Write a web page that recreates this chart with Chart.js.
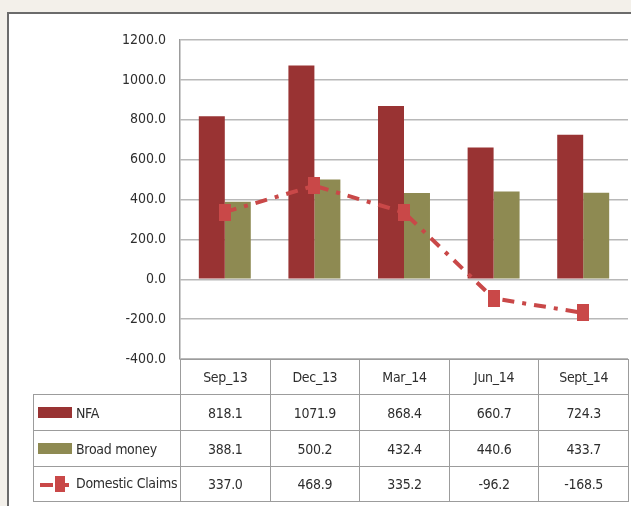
<!DOCTYPE html>
<html>
<head>
<meta charset="utf-8">
<script src="https://cdn.jsdelivr.net/npm/chart.js@4.4.1/dist/chart.umd.min.js"></script>
<style>
  html, body { margin:0; padding:0; width:631px; height:506px; overflow:hidden; background:#f3f0ea; }
  #frame { position:absolute; left:7px; top:12px; width:660px; height:520px; background:#fff; border:2px solid #6b6b6b; box-sizing:border-box; }
  #wrap { position:absolute; left:0; top:0; width:631px; height:506px; }
  #tbl { position:absolute; left:33px; top:359px; border-collapse:collapse; table-layout:fixed;
         font-family:'DejaVu Sans Condensed',sans-serif; font-size:14px; color:#2e2e2e; letter-spacing:-0.3px; }
  #tbl td { border:1px solid #9c9c9c; text-align:center; padding:0; white-space:nowrap; overflow:hidden; }
  #tbl tr.hdr td { height:34px; }
  #tbl tr.row td { height:35px; }
  #tbl tr.last td { height:34px; }
  #tbl td.lab { text-align:left; padding-left:4px; }
  #tbl td.blank { border:none; border-right:1px solid #9c9c9c; }
  .sw { display:inline-block; width:34px; height:11px; vertical-align:middle; margin-right:4px; position:relative; top:-1px; }
  .lk { display:inline-block; position:relative; width:34px; height:17px; vertical-align:middle; margin-right:4px; }
  .lk .d { position:absolute; left:2px; top:7px; width:13px; height:4px; background:#c94848; }
  .lk .m { position:absolute; left:17px; top:0px; width:10px; height:16px; background:#c94848; }
  .lk .d2 { position:absolute; left:27px; top:7px; width:4px; height:4px; background:#c94848; }
</style>
</head>
<body>
<div id="frame"></div>
<div id="wrap"><canvas id="c" width="631" height="506"></canvas></div>
<table id="tbl"></table>
<script>
const categories = ['Sep_13', 'Dec_13', 'Mar_14', 'Jun_14', 'Sept_14'];
const nfa = [818.1, 1071.9, 868.4, 660.7, 724.3];
const broadMoney = [388.1, 500.2, 432.4, 440.6, 433.7];
const domesticClaims = [337.0, 468.9, 335.2, -96.2, -168.5];
const yTicks = [-400, -200, 0, 200, 400, 600, 800, 1000, 1200];

const C_NFA = '#993333';
const C_BM = '#8e8a52';
const C_DC = '#c94848';
const FONT = "'DejaVu Sans Condensed',sans-serif";

// marker image (tall rectangle)
const mk = document.createElement('canvas');
mk.width = 12; mk.height = 17;
const mctx = mk.getContext('2d');
mctx.fillStyle = C_DC;
mctx.fillRect(0, 0, 12, 17);

const chart = new Chart(document.getElementById('c'), {
  type: 'bar',
  data: {
    labels: categories,
    datasets: [
      { label: 'Domestic Claims', type: 'line', data: domesticClaims, borderColor: C_DC, backgroundColor: C_DC,
        borderWidth: 4, borderDash: [12, 8, 4, 8], pointStyle: mk, pointRadius: 8, fill: false, tension: 0, order: 0 },
      { label: 'NFA', data: nfa, backgroundColor: C_NFA, order: 1, categoryPercentage: 0.58, barPercentage: 1.0 },
      { label: 'Broad money', data: broadMoney, backgroundColor: C_BM, order: 1, categoryPercentage: 0.58, barPercentage: 1.0 }
    ]
  },
  options: {
    responsive: false,
    animation: false,
    devicePixelRatio: 1,
    layout: { autoPadding: false, padding: { left: 0, right: 3, top: 40, bottom: 147 } },
    plugins: { legend: { display: false }, tooltip: { enabled: false } },
    scales: {
      x: { display: false },
      y: {
        min: -400, max: 1200,
        afterBuildTicks: s => { s.ticks = yTicks.map(v => ({ value: v })); },
        afterFit: s => { s.width = 180; },
        ticks: { callback: v => Number(v).toFixed(1), color: '#2e2e2e', padding: 14,
                 font: { family: FONT, size: 14 } },
        grid: { color: '#b8b8b8', lineWidth: 1.5, drawTicks: false },
        border: { display: true, color: '#9c9c9c', width: 1.5 }
      }
    }
  }
});

// build data table aligned to category scale
const tbl = document.getElementById('tbl');
const area = chart.chartArea;
const firstW = area.left - 33;
const colW = (area.right - area.left) / categories.length;
let html = '<colgroup><col style="width:' + firstW + 'px">';
categories.forEach(() => { html += '<col style="width:' + colW + 'px">'; });
html += '</colgroup>';
html += '<tr class="hdr"><td class="blank"></td>' + categories.map(c => '<td>' + c + '</td>').join('') + '</tr>';
const rows = [
  { name: 'NFA', vals: nfa, key: '<span class="sw" style="background:' + C_NFA + '"></span>' },
  { name: 'Broad money', vals: broadMoney, key: '<span class="sw" style="background:' + C_BM + '"></span>' },
  { name: 'Domestic Claims', vals: domesticClaims, key: '<span class="lk"><span class="d"></span><span class="m"></span><span class="d2"></span></span>' }
];
rows.forEach((r, i) => {
  html += '<tr class="row' + (i === rows.length - 1 ? ' last' : '') + '"><td class="lab">' + r.key + r.name + '</td>' +
    r.vals.map(v => '<td>' + v.toFixed(1) + '</td>').join('') + '</tr>';
});
tbl.innerHTML = html;
tbl.style.width = (firstW + colW * categories.length) + 'px';
tbl.style.top = area.bottom + 'px';
</script>
</body>
</html>
